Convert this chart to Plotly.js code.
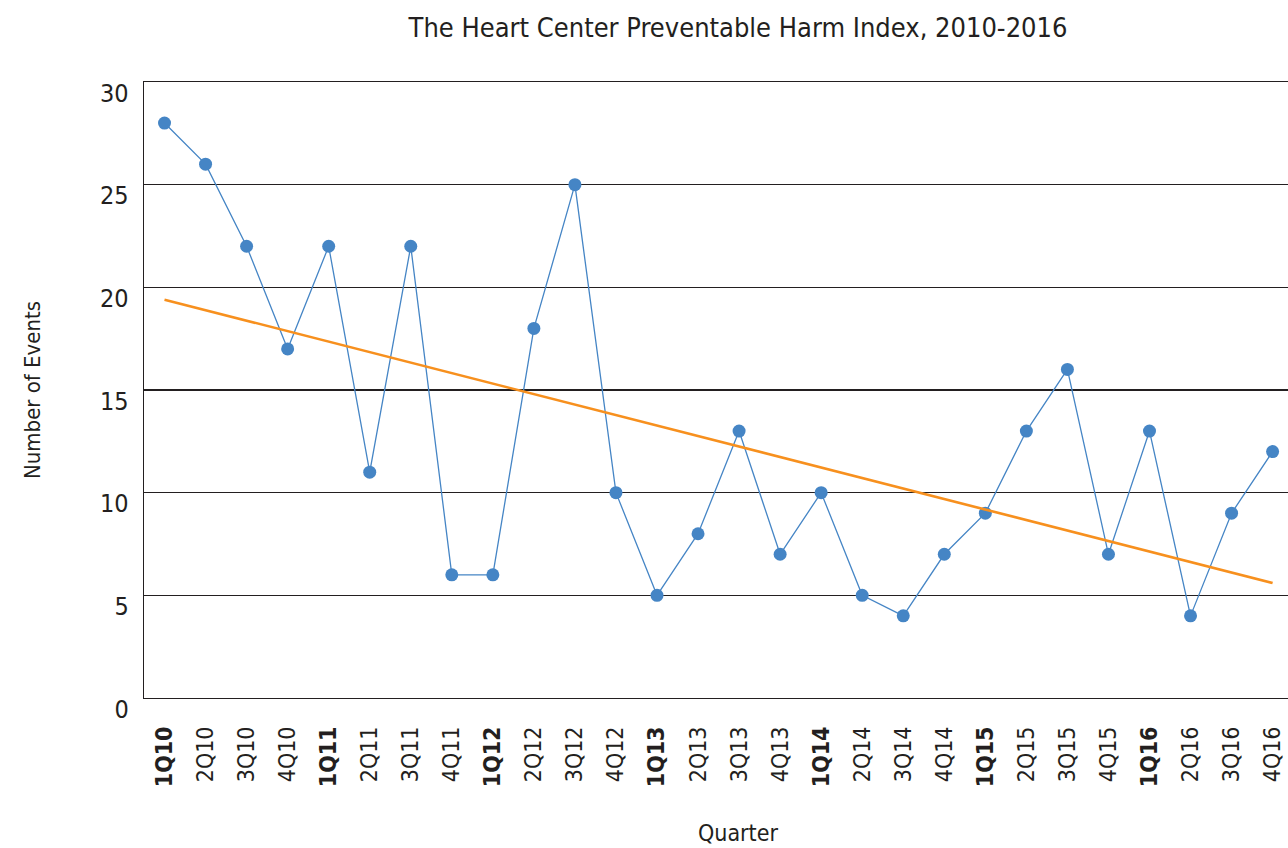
<!DOCTYPE html>
<html>
<head>
<meta charset="utf-8">
<script src="https://cdn.plot.ly/plotly-3.0.1.min.js"></script>
<style>html,body{margin:0;padding:0;background:#fff;}#chart{width:1288px;height:848px;}</style>
</head>
<body>
<div id="chart"></div>
<script>
const quarters = ["1Q10","2Q10","3Q10","4Q10","1Q11","2Q11","3Q11","4Q11","1Q12","2Q12","3Q12","4Q12","1Q13","2Q13","3Q13","4Q13","1Q14","2Q14","3Q14","4Q14","1Q15","2Q15","3Q15","4Q15","1Q16","2Q16","3Q16","4Q16"];
const events = [28,26,22,17,22,11,22,6,6,18,25,10,5,8,13,7,10,5,4,7,9,13,16,7,13,4,9,12];
const trendQuarters = ["1Q10","4Q16"];
const trendValues = [19.4, 5.6];
const yTicks = [0,5,10,15,20,25,30];

const FONT = "'Liberation Sans Narrow', 'DejaVu Sans Condensed', 'Roboto Condensed', sans-serif";
const INK = "#231f20";
const tickText = quarters.map(q => q.startsWith("1Q") ? "<b>" + q + "</b>" : q);

const data = [
  {
    x: quarters, y: events, type: "scatter", mode: "lines+markers",
    line: {color: "#4585c5", width: 1.3},
    marker: {color: "#4585c5", size: 13},
    hoverinfo: "x+y"
  },
  {
    x: trendQuarters, y: trendValues, type: "scatter", mode: "lines",
    line: {color: "#f7901e", width: 2.6},
    hoverinfo: "skip"
  }
];

const layout = {
  width: 1288, height: 848,
  margin: {l: 144, r: 0, t: 82, b: 150},
  paper_bgcolor: "#fff", plot_bgcolor: "#fff",
  showlegend: false,
  font: {family: FONT, color: INK},
  title: {
    text: "The Heart Center Preventable Harm Index, 2010-2016",
    font: {family: FONT, size: 27, color: INK},
    x: 0.573, xanchor: "center", y: 0.968, yanchor: "middle"
  },
  xaxis: {
    type: "category",
    categoryorder: "array", categoryarray: quarters,
    range: [-0.5, 27.375],
    tickvals: quarters, ticktext: tickText,
    tickangle: -90,
    tickfont: {family: FONT, size: 23, color: INK},
    ticks: "", ticklabelstandoff: 18,
    showgrid: false, zeroline: false,
    showline: true, mirror: true, linecolor: INK, linewidth: 1.3,
    fixedrange: true
  },
  yaxis: {
    range: [0, 30],
    tickvals: yTicks,
    tickfont: {family: FONT, size: 25, color: INK},
    ticks: "", ticklabelstandoff: 9, ticklabelshift: 11,
    showgrid: true, gridcolor: INK, gridwidth: 1.3,
    zeroline: false,
    showline: true, linecolor: INK, linewidth: 1.3,
    title: {text: "Number of Events", font: {family: FONT, size: 22, color: INK}, standoff: 53},
    fixedrange: true
  },
  annotations: [
    {
      text: "Quarter", xref: "paper", yref: "paper",
      x: 0.519, y: -0.219, xanchor: "center", yanchor: "middle",
      showarrow: false, font: {family: FONT, size: 23, color: INK}
    }
  ]
};

Plotly.newPlot("chart", data, layout, {displayModeBar: false, staticPlot: true});
</script>
</body>
</html>
